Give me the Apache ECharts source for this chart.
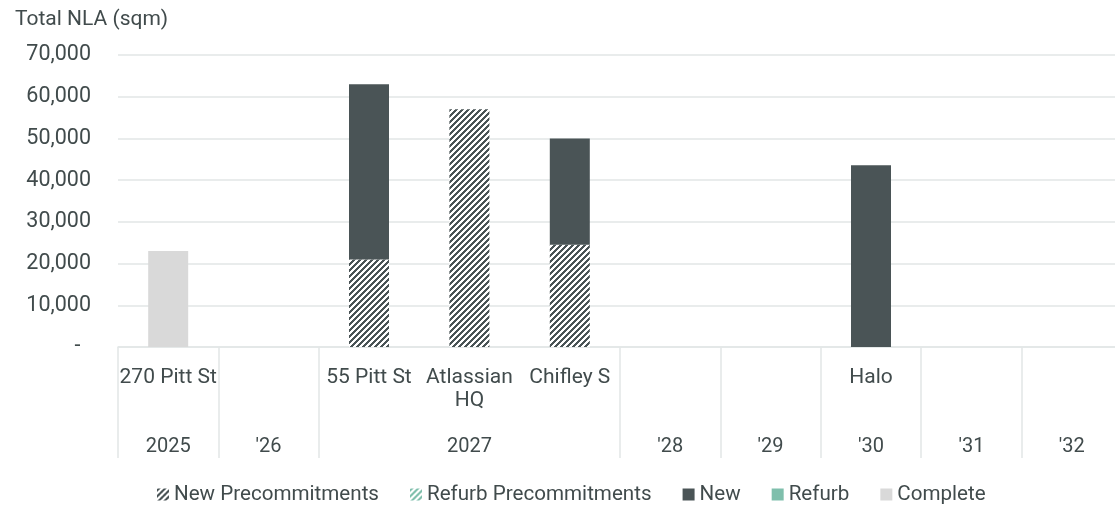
<!DOCTYPE html>
<html>
<head>
<meta charset="utf-8">
<script src="https://cdn.jsdelivr.net/npm/echarts@6/dist/echarts.min.js"></script>
<style>html,body{margin:0;padding:0;background:#fff}#c{width:1115px;height:505px}</style>
</head>
<body>
<div id="c"></div>
<script>
const categories = ['270 Pitt St', '', '55 Pitt St', 'Atlassian\nHQ', 'Chifley S', '', '', 'Halo', '', ''];
const yearLabels = ['2025', "'26", '', '2027', '', "'28", "'29", "'30", "'31", "'32"];
const newPrecommitments = [null, null, 21000, 57000, 24500, null, null, null, null, null];
const refurbPrecommitments = [null, null, null, null, null, null, null, null, null, null];
const newSupply = [null, null, 42000, null, 25500, null, null, 43600, null, null];
const refurbSupply = [null, null, null, null, null, null, null, null, null, null];
const complete = [23000, null, null, null, null, null, null, null, null, null];

const FONT = 'Roboto';
const TXT = '#414b4c';
const DARK = '#4a5456';
const TEAL = '#7fbfac';
const LIGHT = '#d9d9d9';
const GRIDC = '#e2e6e6';

function hatch(color) {
  const s = 6;
  const cv = document.createElement('canvas');
  cv.width = s; cv.height = s;
  const ctx = cv.getContext('2d');
  ctx.fillStyle = '#ffffff';
  ctx.fillRect(0, 0, s, s);
  ctx.fillStyle = color;
  for (let x = 0; x < s; x++) {
    for (let y = 0; y < s; y++) {
      if ((x + y) % s < 3) ctx.fillRect(x, y, 1, 1);
    }
  }
  return { image: cv, repeat: 'repeat' };
}

const chart = echarts.init(document.getElementById('c'), null, { renderer: 'canvas' });
const barW = 40;
function bar(name, data, color) {
  return { name, type: 'bar', stack: 'total', data, barWidth: barW, itemStyle: { color }, emphasis: { disabled: true } };
}
chart.setOption({
  animation: false,
  textStyle: { fontFamily: FONT, color: TXT },
  title: {
    text: 'Total NLA (sqm)', left: 10, top: 4,
    textStyle: { fontFamily: FONT, fontSize: 21, fontWeight: 'normal', color: TXT }
  },
  grid: { left: 118, top: 55, width: 1004, height: 292, containLabel: false, outerBoundsMode: 'none' },
  legend: {
    left: 152, top: 479, itemWidth: 12, itemHeight: 12, itemGap: 31,
    icon: 'rect',
    textStyle: { fontFamily: FONT, fontSize: 20.6, color: TXT },
    data: ['New Precommitments', 'Refurb Precommitments', 'New', 'Refurb', 'Complete']
  },
  xAxis: [{
    type: 'category', data: categories, position: 'bottom',
    axisLine: { show: true, lineStyle: { color: GRIDC, width: 1.5 } },
    axisTick: {
      show: true, length: 111, inside: false, alignWithLabel: false,
      interval: function (i) { return i !== 3 && i !== 4; },
      lineStyle: { color: GRIDC, width: 1.5 }
    },
    axisLabel: { interval: 0, margin: 19, fontFamily: FONT, fontSize: 21, lineHeight: 23, color: TXT }
  }, {
    type: 'category', data: yearLabels, position: 'bottom', gridIndex: 0,
    axisLine: { show: false }, axisTick: { show: false },
    axisLabel: { interval: 0, margin: 88, fontFamily: FONT, fontSize: 20, lineHeight: 23, color: TXT }
  }],
  yAxis: {
    type: 'value', min: 0, max: 70000, interval: 10000,
    axisLine: { show: false }, axisTick: { show: false },
    splitLine: { lineStyle: { color: GRIDC, width: 1.5 } },
    axisLabel: {
      margin: 27, fontFamily: FONT, fontSize: 21.5, color: TXT,
      formatter: function (v) { return v === 0 ? '-  ' : v.toLocaleString('en-US'); }
    }
  },
  series: [
    bar('New Precommitments', newPrecommitments, hatch(DARK)),
    bar('Refurb Precommitments', refurbPrecommitments, hatch(TEAL)),
    bar('New', newSupply, DARK),
    bar('Refurb', refurbSupply, TEAL),
    bar('Complete', complete, LIGHT)
  ]
});
</script>
</body>
</html>
